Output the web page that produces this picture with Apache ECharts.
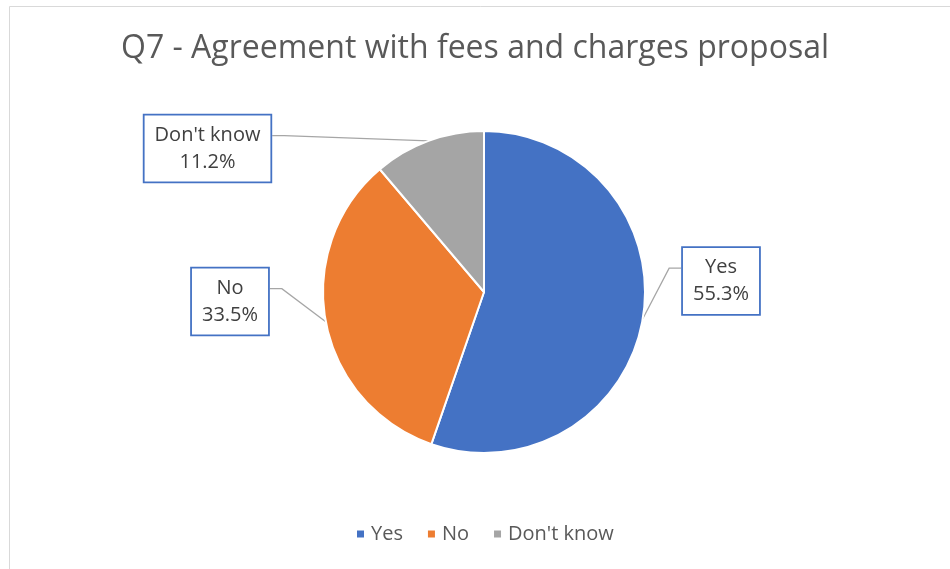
<!DOCTYPE html>
<html><head><meta charset="utf-8">
<script src="https://cdn.jsdelivr.net/npm/echarts@6/dist/echarts.min.js"></script>
<style>html,body{margin:0;padding:0;background:#fff}#c{width:950px;height:569px}</style>
</head><body><div id="c"></div>
<script>
const titleText = "Q7 - Agreement with fees and charges proposal";
const categories = ["Yes", "No", "Don't know"];
const values = [55.3, 33.5, 11.2];
const colors = ["#4472C4", "#ED7D31", "#A5A5A5"];

const labelPos = {
  "Yes": {c: [721, 281], side: 'right', lineDy: 22},
  "No": {c: [230, 301.5], side: 'left', lineDy: 22},
  "Don't know": {c: [207.5, 148.5], side: 'left', lineDy: 22}
};

const chart = echarts.init(document.getElementById('c'));
chart.setOption({
  animation: false,
  backgroundColor: '#fff',
  color: colors,
  title: {
    text: titleText, left: 'center', top: 28,
    textStyle: {fontFamily: 'Open Sans', fontSize: 32, fontWeight: 'normal', color: '#595959'}
  },
  legend: {
    top: 517, left: 350, itemWidth: 9, itemHeight: 9, itemGap: 23, icon: 'rect',
    textStyle: {fontFamily: 'Open Sans', fontSize: 20, lineHeight: 24, color: '#595959', padding: [0, 0, 0, 1]},
    data: categories
  },
  graphic: [{type: 'rect', left: 7, top: 4, shape: {width: 942, height: 600}, style: {fill: 'none', stroke: '#D9D9D9', lineWidth: 1}, silent: true}],
  series: [{
    type: 'pie', center: [484, 292], radius: 161, startAngle: 90, clockwise: true,
    itemStyle: {borderColor: '#fff', borderWidth: 2},
    data: categories.map((c, i) => ({name: c, value: values[i]})),
    label: {
      formatter: p => p.name + '\n' + p.value.toFixed(1) + '%',
      fontFamily: 'Open Sans', fontSize: 20, color: '#404040', lineHeight: 27,
      backgroundColor: '#fff', borderColor: '#4472C4', borderWidth: 1.8,
      padding: [7, 10, 5, 10], align: 'center'
    },
    labelLine: {show: true, lineStyle: {color: '#A6A6A6', width: 1.3}},
    labelLayout: p => {
      const lp = labelPos[categories[p.dataIndex]];
      const w = p.labelRect.width, h = p.labelRect.height;
      const top = lp.c[1] - h / 2;
      const ly = top + lp.lineDy;
      const edgeX = lp.side === 'right' ? lp.c[0] - w / 2 : lp.c[0] + w / 2;
      const midX = lp.side === 'right' ? edgeX - 12 : edgeX + 12;
      const anchor = p.labelLinePoints ? p.labelLinePoints[0] : null;
      const res = {x: lp.c[0], y: lp.c[1], align: 'center', verticalAlign: 'middle'};
      if (anchor) res.labelLinePoints = [anchor, [midX, ly], [edgeX, ly]];
      return res;
    }
  }]
});
</script></body></html>
